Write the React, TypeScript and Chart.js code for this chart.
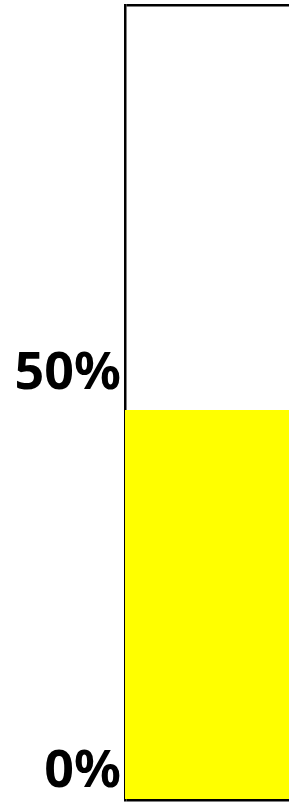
import React, { useEffect, useRef } from "react";
import { Chart, registerables } from "chart.js";

Chart.register(...registerables);

const categories = [""];
const values = [49];
const tickValues = [0, 50, 100];
const tickLabels = ["0%", "50%", ""];

export default function App() {
  const ref = useRef<HTMLCanvasElement | null>(null);
  useEffect(() => {
    if (!ref.current) return;
    const chart = new Chart(ref.current, {
      type: "bar",
      data: {
        labels: categories,
        datasets: [
          {
            data: values,
            backgroundColor: "#ffff00",
            borderWidth: 0,
            barPercentage: 1,
            categoryPercentage: 1,
          },
        ],
      },
      options: {
        animation: false,
        responsive: false,
        maintainAspectRatio: false,
        layout: { padding: { top: 5, bottom: 3, left: 0, right: 0 } },
        plugins: { legend: { display: false }, tooltip: { enabled: false } },
        scales: {
          x: {
            display: false,
          },
          y: {
            min: 0,
            max: 100,
            afterBuildTicks: (scale: any) => {
              scale.ticks = tickValues.map((v) => ({ value: v }));
            },
            afterFit: (scale: any) => {
              scale.width = 125;
              scale.paddingTop = 0;
              scale.paddingBottom = 0;
            },
            ticks: {
              padding: 4,
              labelOffset: -28,
              color: "#000",
              font: { family: "'Noto Sans'", weight: "bold", size: 52 },
              callback: (v: any) => tickLabels[tickValues.indexOf(Number(v))] ?? "",
            },
            grid: {
              drawTicks: false,
              lineWidth: 2.5,
              color: (ctx: any) =>
                ctx.tick && (ctx.tick.value === 0 || ctx.tick.value === 100) ? "#000" : "rgba(0,0,0,0)",
            },
            border: { display: true, color: "#000", width: 2.5 },
          },
        },
      },
    });
    return () => chart.destroy();
  }, []);
  return (
    <div style={{ position: "fixed", left: 0, top: 0, width: 289, height: 803 }}>
      <canvas ref={ref} width={289} height={803} style={{ display: "block" }} />
    </div>
  );
}
